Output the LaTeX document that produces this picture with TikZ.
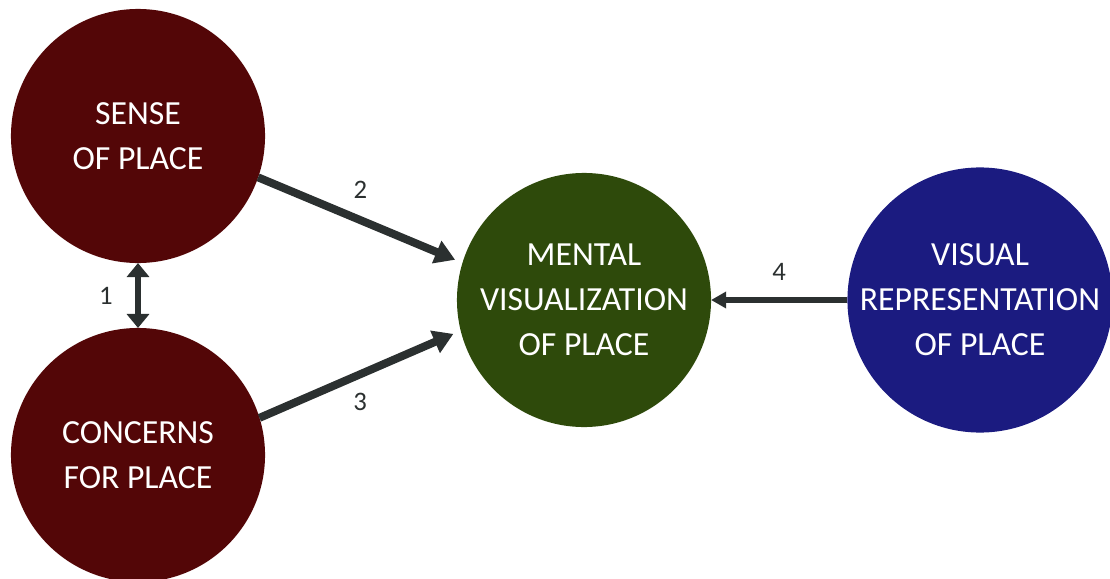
\documentclass[tikz,border=0pt]{standalone}
\usepackage{fontspec}
\setmainfont{Carlito}
\usetikzlibrary{arrows.meta}
\definecolor{placered}{HTML}{530607}
\definecolor{placegreen}{HTML}{2E4A0B}
\definecolor{placeblue}{HTML}{1B1B80}
\definecolor{arrowgray}{HTML}{2B3030}

\begin{document}
\begin{tikzpicture}[x=0.025cm,y=-0.025cm]

\tikzset{place/.style = {shape=circle,minimum size=6.35cm,inner sep=0pt,outer sep=0pt,text=white,align=center,font=\fontsize{24}{32}\selectfont}}
\tikzset{edge/.style = {-{Triangle[length=0.5cm,width=0.58cm]},draw=arrowgray,line width=0.2cm}}
\tikzset{thinedge/.style = {draw=arrowgray,line width=0.13cm}}
\tikzset{num/.style = {text=arrowgray,font=\fontsize{19}{22}\selectfont}}

\useasboundingbox (0,0) rectangle (1110,578);
%circles
\node[place, fill=placered] (sense) at (138,136) {SENSE\\OF PLACE};
\node[place, fill=placered] (concerns) at (138,455) {CONCERNS\\FOR PLACE};
\node[place, fill=placegreen] (mental) at (584,300) {MENTAL\\VISUALIZATION\\OF PLACE};
\node[place, fill=placeblue] (visual) at (980,300) {VISUAL\\REPRESENTATION\\OF PLACE};
%arrows
\draw [thinedge, {Triangle[length=0.35cm,width=0.55cm]}-{Triangle[length=0.35cm,width=0.55cm]}] (sense.south) -- (concerns.north) node [midway, num, left=0.45cm] {1};
\draw [edge, shorten >=0.2cm] (sense.-19) -- (mental.163) node [midway, num, above=0.33cm] {2};
\draw [edge, shorten >=0.2cm] (concerns.17) -- (mental.-166) node [midway, num, below=0.25cm] {3};
\draw [thinedge, -{Triangle[length=0.38cm,width=0.4cm]}] (visual.west) -- (mental.east) node [midway, num, above=0.3cm] {4};

\end{tikzpicture}
\end{document}
